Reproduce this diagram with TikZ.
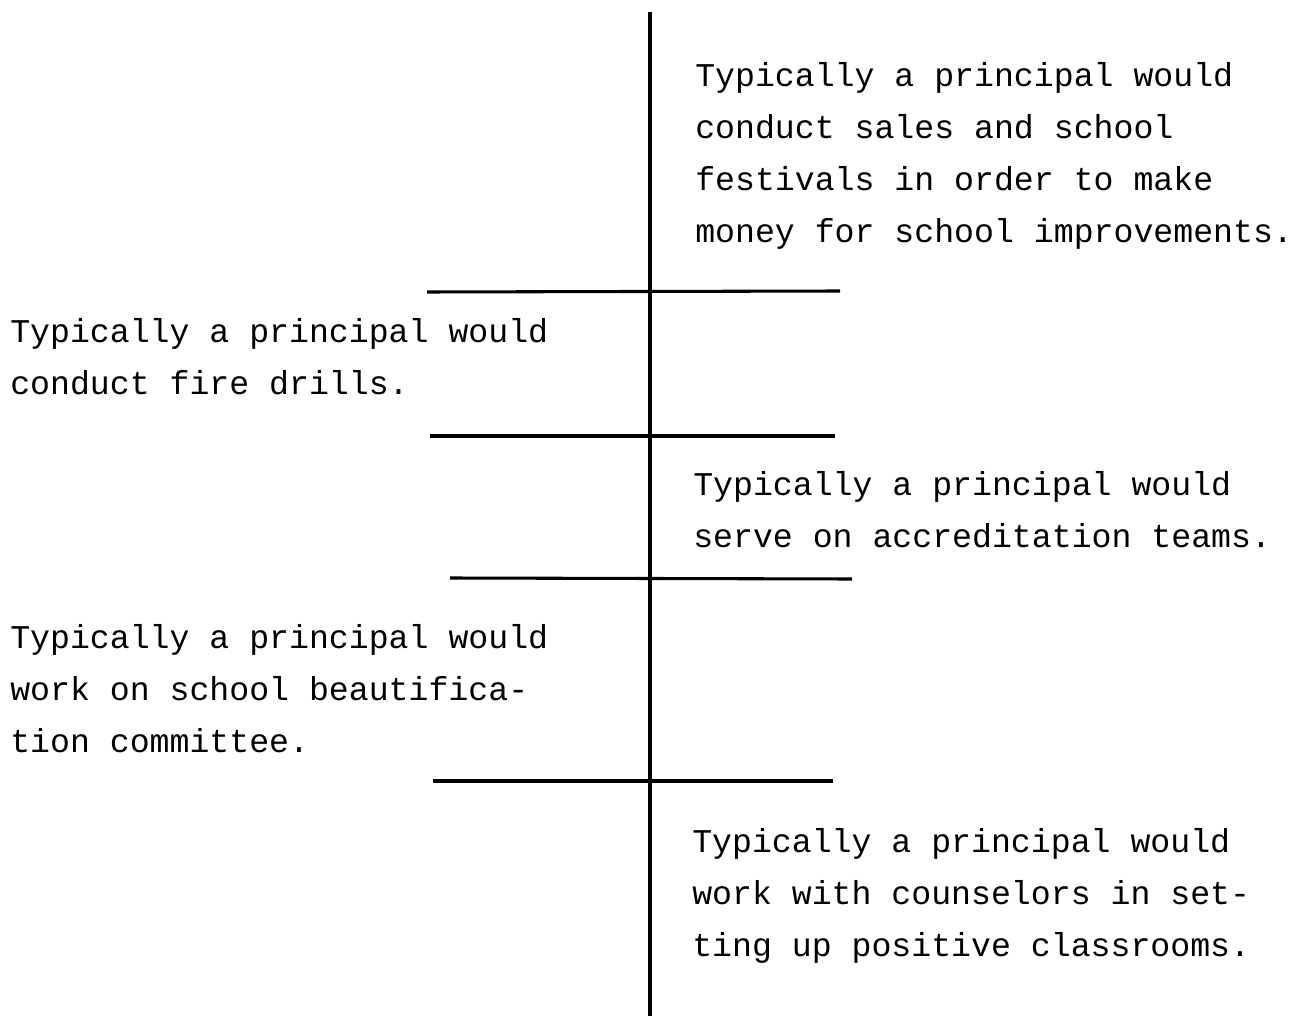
\documentclass[tikz,border=0pt]{standalone}
\usepackage{fontspec}
\setmonofont{Liberation Mono}
\begin{document}
\begin{tikzpicture}[x=0.75pt,y=-0.75pt,
  rule/.style={line width=2.3pt,black},
  spine/.style={line width=2.7pt,black},
  % multi-line entries are anchored on the baseline of their last line
  entry/.style={anchor=base west,inner sep=0pt,align=left,
    font=\ttfamily\fontsize{24.9}{39}\selectfont}]
\useasboundingbox (0,0) rectangle (1307,1016);
% central axis
\coordinate (top) at (650,12);
\coordinate (bot) at (650,1016);
\draw[spine] (top) -- (bot);
% separating rules
\coordinate (r1a) at (427,292); \coordinate (r1b) at (840,291);
\coordinate (r2a) at (430,436); \coordinate (r2b) at (835,436);
\coordinate (r3a) at (450,578); \coordinate (r3b) at (852,579);
\coordinate (r4a) at (433,781); \coordinate (r4b) at (833,781);
\draw[rule] (r1a) -- (r1b);
\draw[rule] (r2a) -- (r2b);
\draw[rule] (r3a) -- (r3b);
\draw[rule] (r4a) -- (r4b);
% statements
\node[entry] (s1) at (695,243) {Typically a principal would\\conduct sales and school\\festivals in order to make\\money for school improvements.};
\node[entry] (s2) at (10,394) {Typically a principal would\\conduct fire drills.};
\node[entry] (s3) at (693,547) {Typically a principal would\\serve on accreditation teams.};
\node[entry] (s4) at (10,752) {Typically a principal would\\work on school beautifica-\\tion committee.};
\node[entry] (s5) at (692,956) {Typically a principal would\\work with counselors in set-\\ting up positive classrooms.};
\end{tikzpicture}
\end{document}
